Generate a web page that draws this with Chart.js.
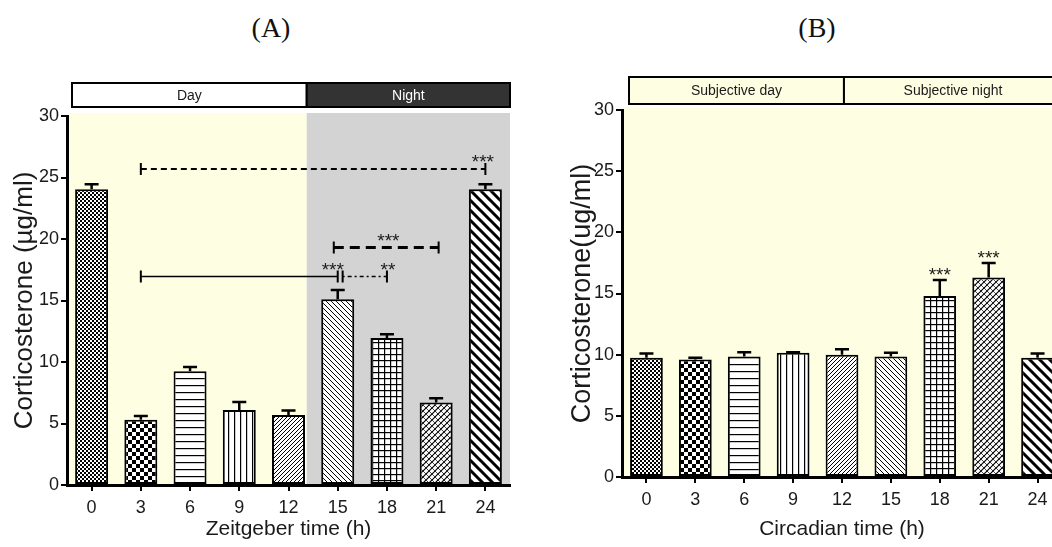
<!DOCTYPE html>
<html>
<head>
<meta charset="utf-8">
<script src="https://cdn.jsdelivr.net/npm/chart.js@4.4.1/dist/chart.umd.min.js"></script>
<style>
  body { margin: 0; width: 1052px; height: 547px; overflow: hidden; background: #fff; position: relative; }
  .panel { position: absolute; top: 0; }
  .tag { position: absolute; top: 12px; width: 100px; text-align: center; font: 28px "Liberation Serif", "Times New Roman", serif; color: #111; }
</style>
</head>
<body>
<div class="tag" style="left:221px">(A)</div>
<div class="tag" style="left:767px">(B)</div>
<div class="panel" style="left:0"><canvas id="chartA" width="530" height="547"></canvas></div>
<div class="panel" style="left:540px"><canvas id="chartB" width="545" height="547"></canvas></div>

<script>
// values
const hours = ['0', '3', '6', '9', '12', '15', '18', '21', '24'];
const yTicks = [0, 5, 10, 15, 20, 25, 30];

// (A) light/dark cycle
const zeitMeans = [24.05, 5.3, 9.25, 6.1, 5.7, 15.1, 11.95, 6.7, 24.05];
const zeitErrors = [0.4, 0.3, 0.35, 0.65, 0.35, 0.75, 0.3, 0.35, 0.4];

// significance brackets in (A): category index range, level, marks
const bracketFrom = [1, 1, 5.1, 4.92];
const bracketTo = [8, 5, 6, 7.05];
const bracketLevel = [25.7, 16.95, 16.95, 19.3];
const bracketMarks = ['***', '***', '**', '***'];
const bracketMarkAt = [7.95, 4.9, 6.02, 6.03];

// (B) constant darkness
const circMeans = [9.75, 9.6, 9.85, 10.15, 10.0, 9.85, 14.8, 16.3, 9.75];
const circErrors = [0.35, 0.15, 0.35, 0.05, 0.45, 0.3, 1.3, 1.2, 0.35];
const circStars = ['', '', '', '', '', '', '***', '***', ''];

const FONT = '"Liberation Sans", Arial, sans-serif';
const CREAM = '#fefee3';
const INK = '#1a1a1a';

// black & white fill patterns, one per time point
function hatch(kind) {
  const sizes = { fine: 4, checker: 8, hlines: 7, vlines: 6, slash: 4, backslash: 5, grid: 6, weave: 6, bold: 10 };
  const s = sizes[kind];
  const c = document.createElement('canvas');
  c.width = c.height = s;
  const g = c.getContext('2d');
  g.fillStyle = '#fff';
  g.fillRect(0, 0, s, s);
  g.fillStyle = '#000';
  g.strokeStyle = '#000';
  const slash = (w) => {
    g.lineWidth = w;
    g.beginPath();
    g.moveTo(0, s); g.lineTo(s, 0);
    g.moveTo(-s / 2, s / 2); g.lineTo(s / 2, -s / 2);
    g.moveTo(s / 2, s * 1.5); g.lineTo(s * 1.5, s / 2);
    g.stroke();
  };
  const backslash = (w) => {
    g.lineWidth = w;
    g.beginPath();
    g.moveTo(0, 0); g.lineTo(s, s);
    g.moveTo(-s / 2, s / 2); g.lineTo(s / 2, s * 1.5);
    g.moveTo(s / 2, -s / 2); g.lineTo(s * 1.5, s / 2);
    g.stroke();
  };
  if (kind === 'fine') {
    g.fillRect(0, 0, 2, 2); g.fillRect(2, 2, 2, 2);
  } else if (kind === 'checker') {
    g.fillRect(0, 0, 4, 4); g.fillRect(4, 4, 4, 4);
  } else if (kind === 'hlines') {
    g.fillRect(0, 0, s, 1.2);
  } else if (kind === 'vlines') {
    g.fillRect(0, 0, 1.2, s);
  } else if (kind === 'grid') {
    g.fillRect(0, 0, s, 1.2); g.fillRect(0, 0, 1.2, s);
  } else if (kind === 'slash') {
    slash(1);
  } else if (kind === 'backslash') {
    backslash(1);
  } else if (kind === 'weave') {
    slash(1.2); backslash(0.7);
  } else if (kind === 'bold') {
    backslash(3);
  }
  return g.createPattern(c, 'repeat');
}

const fills = ['fine', 'checker', 'hlines', 'vlines', 'slash', 'backslash', 'grid', 'weave', 'bold'].map(hatch);

function bracketDash(i) {
  if (i === 0) return { dash: [6, 4], w: 2 };
  if (i === 1) return { dash: [], w: 1.5 };
  if (i === 2) return { dash: [2, 3, 4, 3], w: 1.5 };
  return { dash: [10, 6], w: 3 };
}

// asterisks sit high in the em box, so place them by baseline
function stars(ctx, text, x, centerY) {
  ctx.font = '19px ' + FONT;
  ctx.textAlign = 'center';
  ctx.textBaseline = 'alphabetic';
  ctx.fillText(text, x, centerY + 11);
}

function decor(cfg) {
  return {
    id: 'decor',
    beforeDraw(chart) {
      const { ctx, chartArea: a, scales: { x } } = chart;
      const split = x.getPixelForValue(cfg.splitAt);
      ctx.save();
      ctx.fillStyle = CREAM;
      ctx.fillRect(a.left, a.top - 3, split - a.left, a.bottom - a.top + 3);
      ctx.fillStyle = cfg.nightShade;
      ctx.fillRect(split, a.top - 3, a.right - split, a.bottom - a.top + 3);

      // day / night header strip
      const top = a.top - cfg.headGap - cfg.headH;
      const left = a.left + cfg.headInset;
      ctx.lineWidth = 2;
      ctx.strokeStyle = '#000';
      ctx.fillStyle = cfg.dayBox;
      ctx.fillRect(left, top, split - left, cfg.headH);
      ctx.strokeRect(left, top, split - left, cfg.headH);
      ctx.fillStyle = cfg.nightBox;
      ctx.fillRect(split, top, a.right - split, cfg.headH);
      ctx.strokeRect(split, top, a.right - split, cfg.headH);
      ctx.font = '14px ' + FONT;
      ctx.textAlign = 'center';
      ctx.textBaseline = 'middle';
      ctx.fillStyle = INK;
      ctx.fillText(cfg.dayText, (left + split) / 2, top + cfg.headH / 2 + 1);
      ctx.fillStyle = cfg.nightText;
      ctx.fillText(cfg.nightLabel, (split + a.right) / 2, top + cfg.headH / 2 + 1);
      ctx.restore();
    },
    afterDatasetsDraw(chart) {
      const { ctx, scales: { x, y } } = chart;
      const meta = chart.getDatasetMeta(0);
      ctx.save();
      ctx.strokeStyle = '#000';
      ctx.fillStyle = INK;
      ctx.lineCap = 'butt';
      meta.data.forEach((bar, i) => {
        const top = y.getPixelForValue(cfg.means[i] + cfg.errors[i]);
        ctx.lineWidth = 2.5;
        ctx.beginPath();
        ctx.moveTo(bar.x, bar.y);
        ctx.lineTo(bar.x, top);
        ctx.moveTo(bar.x - 7, top);
        ctx.lineTo(bar.x + 7, top);
        ctx.stroke();
        if (cfg.stars && cfg.stars[i]) stars(ctx, cfg.stars[i], bar.x, top - 10);
      });
      if (cfg.brackets) {
        bracketFrom.forEach((from, i) => {
          const x1 = x.getPixelForValue(from);
          const x2 = x.getPixelForValue(bracketTo[i]);
          const yy = y.getPixelForValue(bracketLevel[i]);
          const st = bracketDash(i);
          ctx.lineWidth = st.w;
          ctx.setLineDash(st.dash);
          ctx.beginPath();
          ctx.moveTo(x1, yy);
          ctx.lineTo(x2, yy);
          ctx.stroke();
          ctx.setLineDash([]);
          ctx.lineWidth = 2;
          ctx.beginPath();
          ctx.moveTo(x1, yy - 6); ctx.lineTo(x1, yy + 6);
          ctx.moveTo(x2, yy - 6); ctx.lineTo(x2, yy + 6);
          ctx.stroke();
          stars(ctx, bracketMarks[i], x.getPixelForValue(bracketMarkAt[i]), yy - 12);
        });
      }
      ctx.restore();
    }
  };
}

function makeChart(id, means, cfg) {
  const axisGrid = { display: true, drawOnChartArea: false, tickLength: 6, lineWidth: 2, color: '#000' };
  return new Chart(document.getElementById(id), {
    type: 'bar',
    data: {
      labels: hours,
      datasets: [{
        data: means,
        backgroundColor: fills,
        borderColor: '#000',
        borderWidth: 2,
        borderSkipped: false,
        categoryPercentage: 1,
        barPercentage: 0.67
      }]
    },
    options: {
      responsive: false,
      animation: false,
      layout: { padding: cfg.padding },
      plugins: { legend: { display: false }, tooltip: { enabled: false } },
      scales: {
        x: {
          grid: Object.assign({ offset: false }, axisGrid),
          border: { display: true, width: 3, color: '#000' },
          ticks: { color: INK, font: { family: FONT, size: 18 }, padding: cfg.xTickPad, maxRotation: 0 },
          title: { display: true, text: cfg.xTitle, color: INK, font: { family: FONT, size: 21 }, padding: { top: 2, bottom: 4 } },
          afterFit: (s) => { s.height = cfg.xHeight; }
        },
        y: {
          min: 0,
          max: 30,
          afterBuildTicks: (s) => { s.ticks = yTicks.map(v => ({ value: v })); },
          grid: axisGrid,
          border: { display: true, width: 3, color: '#000' },
          ticks: { color: INK, font: { family: FONT, size: 18 }, padding: 2 },
          title: { display: true, text: cfg.yTitle, color: INK, font: { family: FONT, size: cfg.yTitleSize }, padding: { top: 4, bottom: 2 } },
          afterFit: (s) => { s.width = cfg.yWidth; }
        }
      }
    },
    plugins: [decor(cfg)]
  });
}

makeChart('chartA', zeitMeans, {
  means: zeitMeans, errors: zeitErrors, brackets: true,
  padding: { top: 116, left: 5, right: 20, bottom: 1 },
  yWidth: 62, xHeight: 61, xTickPad: 6, yTitleSize: 26,
  xTitle: 'Zeitgeber time (h)', yTitle: 'Corticosterone (\u00b5g/ml)',
  splitAt: 4.37, nightShade: '#d3d3d3',
  headGap: 9, headH: 24, headInset: 5,
  dayBox: '#ffffff', nightBox: '#333333', nightText: '#ffffff',
  dayText: 'Day', nightLabel: 'Night'
});

makeChart('chartB', circMeans, {
  means: circMeans, errors: circErrors, stars: circStars,
  padding: { top: 110, left: 22, right: 23, bottom: 1 },
  yWidth: 60, xHeight: 69, xTickPad: 6, yTitleSize: 27,
  xTitle: 'Circadian time (h)', yTitle: 'Corticosterone(ug/ml)',
  splitAt: 4.04, nightShade: CREAM,
  headGap: 6, headH: 27, headInset: 7,
  dayBox: CREAM, nightBox: CREAM, nightText: INK,
  dayText: 'Subjective day', nightLabel: 'Subjective night'
});
</script>
</body>
</html>
